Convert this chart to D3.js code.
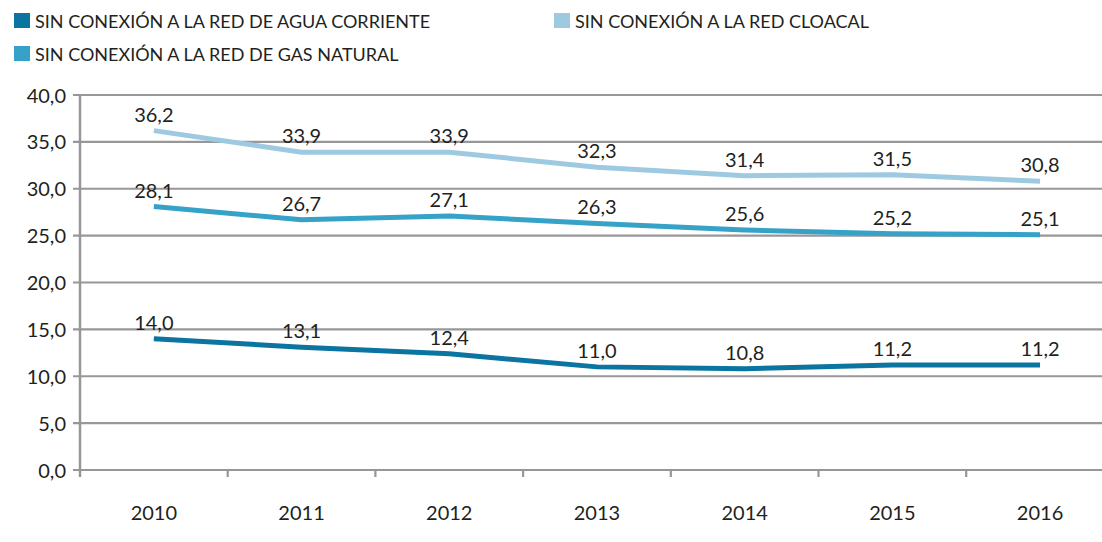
<!DOCTYPE html>
<html>
<head>
<meta charset="utf-8">
<script src="https://cdn.jsdelivr.net/npm/d3@7"></script>
<style>
  body { margin: 0; background: #fff; }
  text { font-family: Lato, "Open Sans", sans-serif; fill: #231f20; }
</style>
</head>
<body>
<div id="wrapper"></div>
<script>
'use strict';
//#region DATA
const years = ['2010', '2011', '2012', '2013', '2014', '2015', '2016'];
const agua = [14.0, 13.1, 12.4, 11.0, 10.8, 11.2, 11.2];
const cloacal = [36.2, 33.9, 33.9, 32.3, 31.4, 31.5, 30.8];
const gas = [28.1, 26.7, 27.1, 26.3, 25.6, 25.2, 25.1];
const yTicks = [0, 5, 10, 15, 20, 25, 30, 35, 40];
//#endregion DATA

const series = [
  {name: 'SIN CONEXIÓN A LA RED DE CLOACAL', values: cloacal, colour: '#9ecae1'},
  {name: 'SIN CONEXIÓN A LA RED DE GAS NATURAL', values: gas, colour: '#36a2c7'},
  {name: 'SIN CONEXIÓN A LA RED DE AGUA CORRIENTE', values: agua, colour: '#0b74a0'}
];
const legendItems = [
  {name: 'SIN CONEXIÓN A LA RED DE AGUA CORRIENTE', colour: '#0b74a0', x: 14, y: 13},
  {name: 'SIN CONEXIÓN A LA RED CLOACAL', colour: '#9ecae1', x: 554, y: 13},
  {name: 'SIN CONEXIÓN A LA RED DE GAS NATURAL', colour: '#36a2c7', x: 14, y: 46}
];

//#region DIMENSIONS
const dimensions = {
  width: 1102,
  height: 542,
  margin: {top: 95, left: 80, bottom: 72}
};
const plotBottom = dimensions.height - dimensions.margin.bottom;
//#endregion

const svg = d3.select('#wrapper').append('svg')
  .attr('width', dimensions.width)
  .attr('height', dimensions.height);

//#region SCALES
const xScale = d3.scaleBand()
  .domain(years)
  .range([dimensions.margin.left, dimensions.margin.left + 7 * 147.7]);
const yScale = d3.scaleLinear()
  .domain([0, 40])
  .range([plotBottom, dimensions.margin.top]);
const xPos = d => xScale(d) + xScale.bandwidth() / 2;
//#endregion

//#region GRID & AXES
const grid = svg.append('g');
grid.selectAll('line')
  .data(yTicks)
  .join('line')
  .attr('x1', dimensions.margin.left - 7)
  .attr('x2', dimensions.width)
  .attr('y1', d => yScale(d))
  .attr('y2', d => yScale(d))
  .attr('stroke', '#97979a')
  .attr('stroke-width', 2.2);

svg.append('line')
  .attr('x1', dimensions.margin.left).attr('x2', dimensions.margin.left)
  .attr('y1', yScale(40)).attr('y2', plotBottom + 7)
  .attr('stroke', '#97979a').attr('stroke-width', 2.5);

const yAxis = svg.append('g')
  .attr('transform', `translate(${dimensions.margin.left - 14},0)`)
  .call(d3.axisLeft(yScale).tickValues(yTicks).tickSize(0).tickPadding(0)
    .tickFormat(d => d3.format('.1f')(d).replace('.', ',')));
yAxis.select('.domain').remove();
yAxis.selectAll('text')
  .attr('dy', '0.35em')
  .style('font-size', '20px')
  .style('fill', '#231f20');

const xAxis = svg.append('g')
  .attr('transform', `translate(0,${plotBottom})`)
  .call(d3.axisBottom(xScale).tickSize(0).tickPadding(36));
xAxis.select('.domain').remove();
xAxis.selectAll('text')
  .style('font-size', '20px')
  .style('fill', '#231f20');
// category separator ticks
svg.append('g').selectAll('line')
  .data(years)
  .join('line')
  .attr('x1', d => xScale(d) + xScale.bandwidth())
  .attr('x2', d => xScale(d) + xScale.bandwidth())
  .attr('y1', plotBottom)
  .attr('y2', plotBottom + 7)
  .attr('stroke', '#97979a')
  .attr('stroke-width', 2.2);
//#endregion

//#region LINES
const lineGen = d3.line()
  .x((d, i) => xPos(years[i]))
  .y(d => yScale(d));

series.forEach(s => {
  svg.append('path')
    .datum(s.values)
    .attr('d', lineGen)
    .attr('fill', 'none')
    .attr('stroke', s.colour)
    .attr('stroke-width', 5);
});

series.forEach(s => {
  svg.append('g').selectAll('text')
    .data(s.values)
    .join('text')
    .attr('x', (d, i) => xPos(years[i]))
    .attr('y', d => yScale(d) - 9)
    .attr('text-anchor', 'middle')
    .style('font-size', '20px')
    .text(d => d3.format('.1f')(d).replace('.', ','));
});
//#endregion

//#region LEGEND
const legend = svg.append('g');
legendItems.forEach(item => {
  legend.append('rect')
    .attr('x', item.x).attr('y', item.y)
    .attr('width', 16).attr('height', 15)
    .attr('fill', item.colour);
  legend.append('text')
    .attr('x', item.x + 21)
    .attr('y', item.y + 15)
    .style('font-size', '18px')
    .text(item.name);
});
//#endregion
</script>
</body>
</html>
